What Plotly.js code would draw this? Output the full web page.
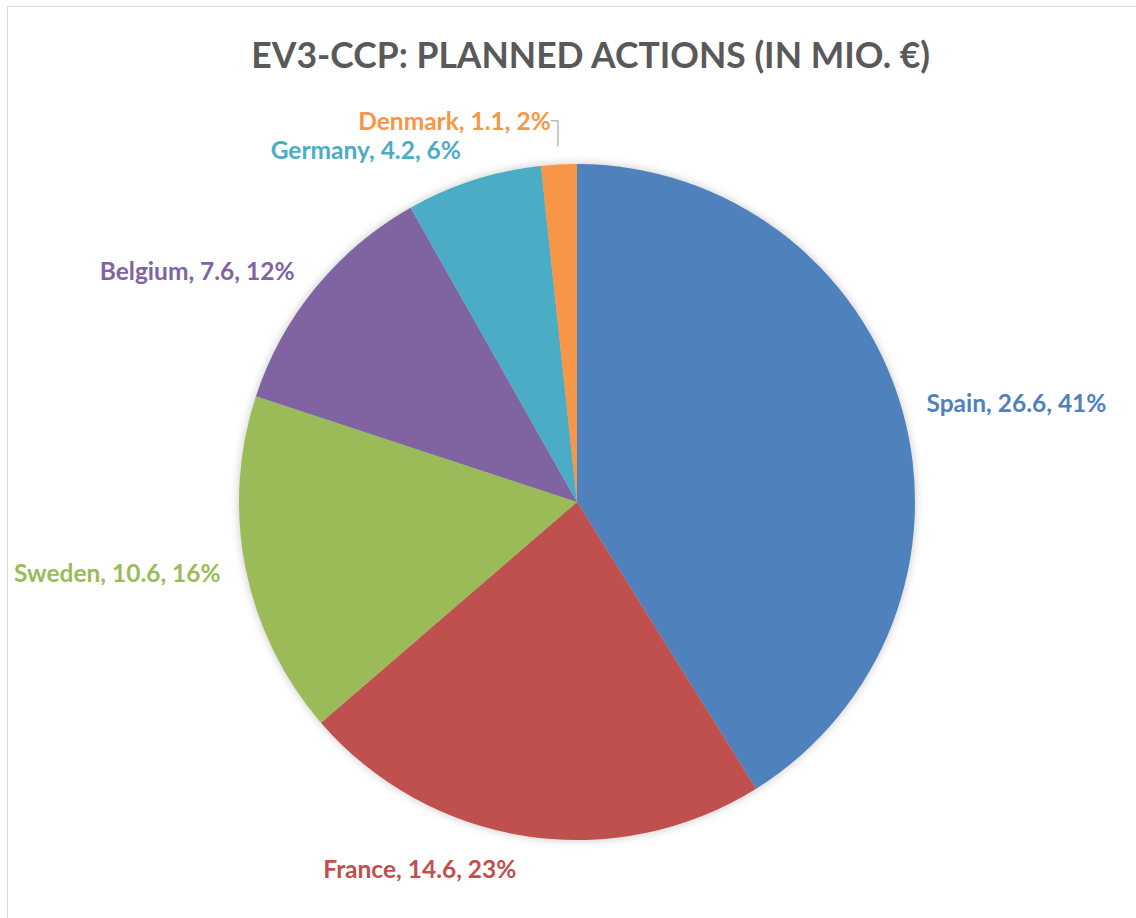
<!DOCTYPE html>
<html>
<head>
<meta charset="utf-8">
<script src="https://cdn.plot.ly/plotly-3.0.1.min.js"></script>
<style>
html,body{margin:0;padding:0;background:#fff;}
#wrap{position:relative;width:1136px;height:918px;overflow:hidden;}
#frame{position:absolute;left:7px;top:6px;width:1200px;height:1000px;border-left:1px solid #d9d9d9;border-top:1px solid #d9d9d9;pointer-events:none;}
#chart{position:absolute;left:0;top:0;width:1136px;height:918px;}
</style>
</head>
<body>
<div id="wrap"><div id="chart"></div><div id="frame"></div></div>
<script>
const countries = ["Spain", "France", "Sweden", "Belgium", "Germany", "Denmark"];
const amounts = [26.6, 14.6, 10.6, 7.6, 4.2, 1.1];
const colors = ["#4F81BD", "#C0504D", "#9BBB59", "#8064A2", "#4BACC6", "#F79646"];
const chartTitle = "EV3-CCP: PLANNED ACTIONS (IN MIO. €)";

const fontFam = "Lato, 'Open Sans', sans-serif";
const inset = 18 / 712;

const piePart = {
  type: "pie",
  labels: countries,
  values: amounts,
  sort: false,
  direction: "clockwise",
  rotation: 0,
  hoverinfo: "none",
  automargin: false,
  showlegend: false
};

Plotly.newPlot("chart", [
  Object.assign({}, piePart, {
    domain: {x: [inset, 1 - inset], y: [inset, 1 - inset]},
    marker: {colors: colors, line: {width: 0}},
    textinfo: "none"
  }),
  Object.assign({}, piePart, {
    domain: {x: [0, 1], y: [0, 1]},
    marker: {colors: colors.map(() => "rgba(0,0,0,0)"), line: {width: 0}},
    textposition: "outside",
    texttemplate: "%{label}, %{value:.1f}, %{percent:.0%}",
    outsidetextfont: {family: fontFam, size: 24.5, color: colors, weight: "bold"}
  })
], {
  width: 1136,
  height: 918,
  margin: {l: 221, r: 203, t: 146, b: 60},
  paper_bgcolor: "#ffffff",
  title: {
    text: "<b>" + chartTitle + "</b>",
    font: {family: fontFam, size: 35.5, color: "#595959"},
    x: 0.52, xanchor: "center",
    y: 0.94, yanchor: "middle"
  },
  showlegend: false
}, {displayModeBar: false}).then(function (gd) {
  document.querySelectorAll("#chart path.textline").forEach(function (p) {
    p.style.stroke = "#a6a6a6";
    p.style.strokeWidth = "1.2px";
  });
  var traces = document.querySelectorAll("#chart g.pielayer g.trace");
  if (traces.length) {
    traces[0].style.filter = "drop-shadow(0px 0px 5px rgba(0,0,0,0.22))";
  }
});
</script>
</body>
</html>
